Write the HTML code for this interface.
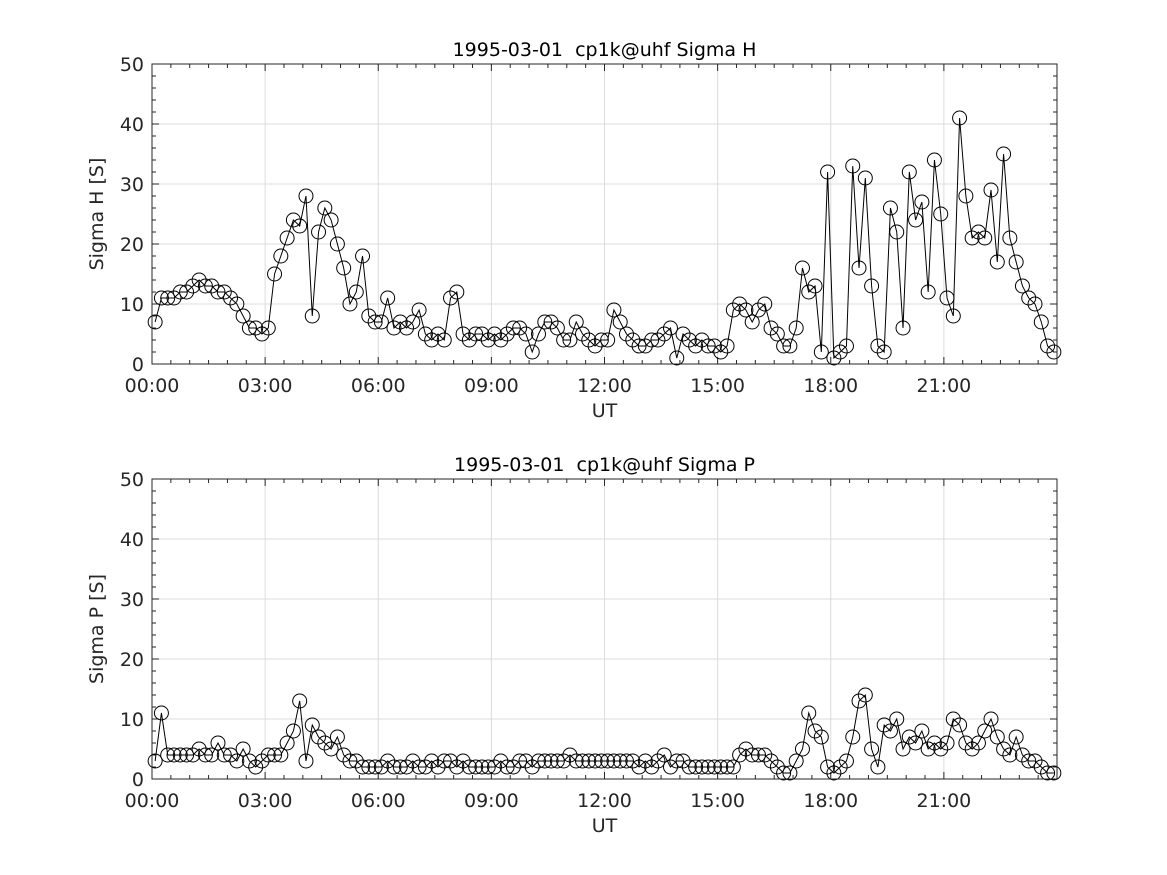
<!DOCTYPE html>
<html><head><meta charset="utf-8"><style>
html,body{margin:0;padding:0;background:#fff;}
svg{display:block;font-family:"DejaVu Sans","Liberation Sans",sans-serif;}
text{white-space:pre;}
</style></head><body>
<svg id="chart" width="1167" height="875" viewBox="0 0 1167 875" xmlns="http://www.w3.org/2000/svg"></svg>
<script>
const hours = ["00:00","03:00","06:00","09:00","12:00","15:00","18:00","21:00"];
const hourValues = [0,3,6,9,12,15,18,21];
const yTickValues = [0,10,20,30,40,50];
const sigmaH = [
7,11,11,11,12,12, 13,14,13,13,12,12, 11,10,8,6,6,5, 6,15,18,21,24,23,
28,8,22,26,24,20, 16,10,12,18,8,7, 7,11,6,7,6,7, 9,5,4,5,4,11,
12,5,4,5,5,4, 5,4,5,6,6,5, 2,5,7,7,6,4, 4,7,5,4,3,4,
4,9,7,5,4,3, 3,4,4,5,6,1, 5,4,3,4,3,3, 2,3,9,10,9,7,
9,10,6,5,3,3, 6,16,12,13,2,32, 1,2,3,33,16,31, 13,3,2,26,22,6,
32,24,27,12,34,25, 11,8,41,28,21,22, 21,29,17,35,21,17, 13,11,10,7,3,2];
const sigmaP = [
3,11,4,4,4,4, 4,5,4,4,6,4, 4,3,5,3,2,3, 4,4,4,6,8,13,
3,9,7,6,5,7, 4,3,3,2,2,2, 2,3,2,2,2,3, 2,2,3,2,3,3,
2,3,2,2,2,2, 2,3,2,2,3,3, 2,3,3,3,3,3, 4,3,3,3,3,3,
3,3,3,3,3,2, 3,2,3,4,2,3, 3,2,2,2,2,2, 2,2,2,4,5,4,
4,4,3,2,1,1, 3,5,11,8,7,2, 1,2,3,7,13,14, 5,2,9,8,10,5,
7,6,8,5,6,5, 6,10,9,6,5,6, 8,10,7,5,4,7, 4,3,3,2,1,1];

const NS="http://www.w3.org/2000/svg";
const svg=document.getElementById('chart');
function mk(tag,attrs,parent){const e=document.createElementNS(NS,tag);for(const k in attrs)e.setAttribute(k,attrs[k]);(parent||svg).appendChild(e);return e;}

function panel(top,title,ylabel,data,key){
  const x0=152,x1=1057,y0=top+300,y1=top;
  const xs=h=>x0+(h/24)*(x1-x0);
  const ys=v=>y0-(v/50)*(y0-y1);
  const g=mk('g',{});
  
  
  mk('rect',{x:x0,y:y1,width:x1-x0,height:y0-y1,fill:'#fff'},g);
  hourValues.forEach(h=>{const l=mk('line',{x1:xs(h),x2:xs(h),y1:y1,y2:y0,stroke:'#dcdcdc','stroke-width':1},g);
    });
  yTickValues.forEach(v=>{const l=mk('line',{x1:x0,x2:x1,y1:ys(v),y2:ys(v),stroke:'#dcdcdc','stroke-width':1},g);
    });
  for(let h=0;h<=24;h+=0.5){const big=(h%3===0);const len=big?7:4;
    mk('line',{x1:xs(h),x2:xs(h),y1:y0,y2:y0-len,stroke:'#262626'},g);
    mk('line',{x1:xs(h),x2:xs(h),y1:y1,y2:y1+len,stroke:'#262626'},g);}
  for(let v=0;v<=50;v+=2){const big=(v%10===0);const len=big?7:4;
    mk('line',{x1:x0,x2:x0+len,y1:ys(v),y2:ys(v),stroke:'#262626'},g);
    mk('line',{x1:x1,x2:x1-len,y1:ys(v),y2:ys(v),stroke:'#262626'},g);}
  const pts=data.map((v,i)=>xs(i*24/data.length+1/12)+','+ys(v)).join(' ');
  const pl=mk('polyline',{points:pts,fill:'none',stroke:'#000','stroke-width':1},g);
  
  
  data.forEach((v,i)=>{const c=mk('circle',{cx:xs(i*24/data.length+1/12),cy:ys(v),r:7,fill:'none',stroke:'#000','stroke-width':1},g);
    
    });
  mk('rect',{x:x0,y:y1,width:x1-x0,height:y0-y1,fill:'none',stroke:'#262626','stroke-width':1},g);
  hours.forEach((t,i)=>{const e=mk('text',{x:xs(hourValues[i]),y:y0+28,'text-anchor':'middle','font-size':19,fill:'#262626'},g);e.textContent=t;
    });
  yTickValues.forEach(v=>{const e=mk('text',{x:x0-8,y:ys(v)+7,'text-anchor':'end','font-size':19,fill:'#262626'},g);e.textContent=v;
    });
  const xt=mk('text',{x:(x0+x1)/2,y:y0+53,'text-anchor':'middle','font-size':19,fill:'#262626'},g);xt.textContent='UT';
  
  const yt=mk('text',{x:0,y:0,'text-anchor':'middle','font-size':19,fill:'#262626',transform:`translate(103,${(y0+y1)/2}) rotate(-90)`},g);yt.textContent=ylabel;
  
  const tt=mk('text',{x:(x0+x1)/2,y:y1-8,'text-anchor':'middle','font-size':19,fill:'#000'},g);tt.textContent=title;
  
}
panel(64,'1995-03-01  cp1k@uhf Sigma H','Sigma H [S]',sigmaH,'sigma-h');
panel(479,'1995-03-01  cp1k@uhf Sigma P','Sigma P [S]',sigmaP,'sigma-p');
</script>
</body></html>
